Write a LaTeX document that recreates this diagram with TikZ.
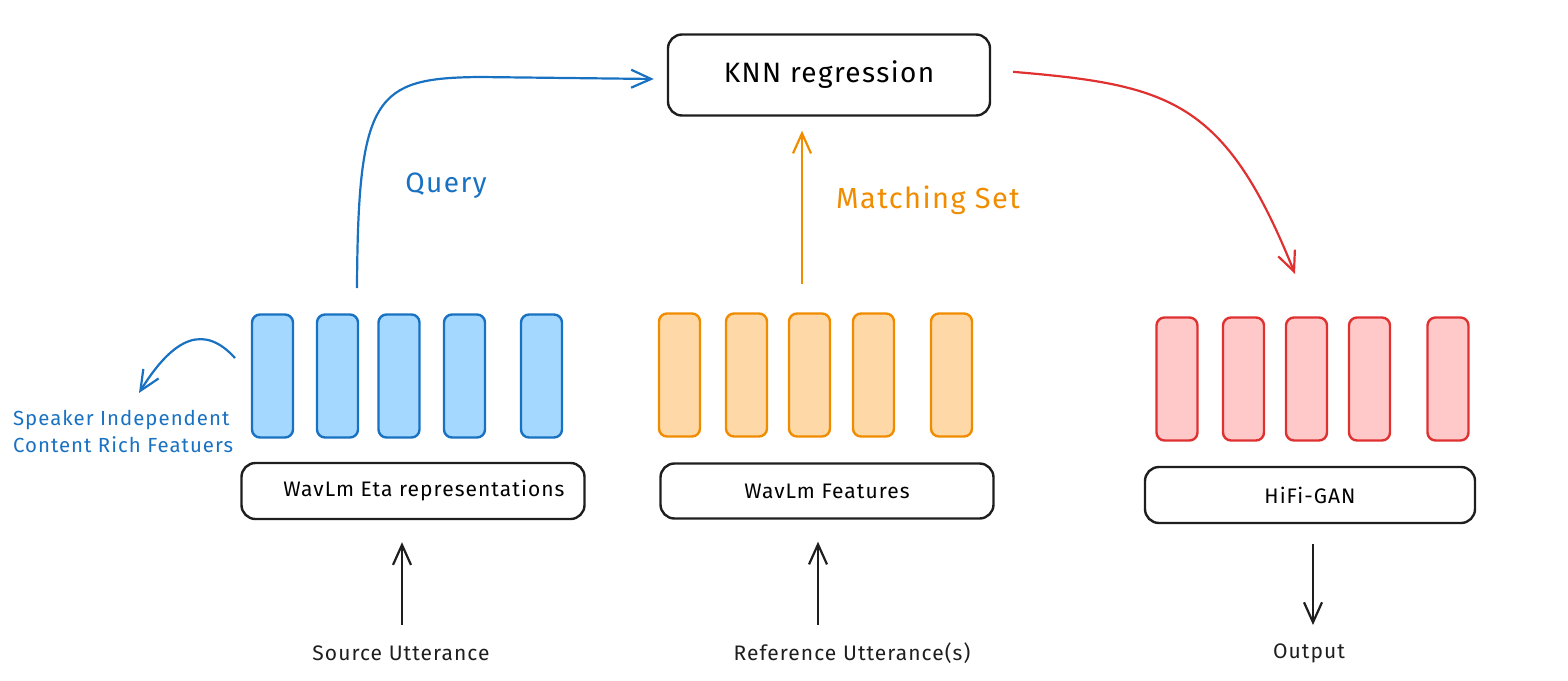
\documentclass[tikz,border=0pt]{standalone}
\usepackage{fontspec}
\setmainfont{Fira Sans}[LetterSpace=5]
\usetikzlibrary{arrows.meta}

\definecolor{inkblack}{HTML}{1E1E1E}
\definecolor{qblue}{HTML}{1971C2}
\definecolor{qbluefill}{HTML}{A5D8FF}
\definecolor{morange}{HTML}{F08C00}
\definecolor{morangefill}{HTML}{FFD8A8}
\definecolor{vred}{HTML}{E03131}
\definecolor{vredfill}{HTML}{FFC9C9}

\tikzset{
  stagebox/.style={draw=inkblack, line width=1.2pt, rounded corners=7pt, inner sep=0pt,
    minimum height=28pt, font=\fontsize{10.5}{12}\selectfont},
  featbar/.style={line width=1.2pt, rounded corners=4pt, inner sep=0pt,
    minimum width=20.5pt, minimum height=61.5pt},
  flow/.style={line width=1.1pt, -{Straight Barb[length=10pt, width=9pt]}},
  caption/.style={font=\fontsize{10.5}{12}\selectfont, text=inkblack}
}

\begin{document}
\begin{tikzpicture}[x=0.5pt, y=-0.5pt]
  \useasboundingbox (0,0) rectangle (1568,680);

  % top block
  \node[stagebox, minimum width=161pt, minimum height=40.5pt,
    font=\fontsize{14}{16}\selectfont] (knn) at (829,75) {KNN regression};

  % feature bars
  \foreach \x [count=\i] in {272.5,337.5,399,464.5,541.5}
    \node[featbar, draw=qblue, fill=qbluefill] (src\i) at (\x,376) {};
  \foreach \x [count=\i] in {679.5,746.5,809.5,873.5,951.5}
    \node[featbar, draw=morange, fill=morangefill] (ref\i) at (\x,375) {};
  \foreach \x [count=\i] in {1177,1243.5,1306.5,1369.5,1448}
    \node[featbar, draw=vred, fill=vredfill] (out\i) at (\x,379) {};

  % stage boxes
  \node[stagebox, minimum width=171.5pt] (wavblue) at (413,491) {\hspace{11pt}WavLm Eta representations};
  \node[stagebox, minimum width=166.5pt, minimum height=27.5pt] (wavorange) at (827,491) {WavLm Features};
  \node[stagebox, minimum width=165pt] (hifi) at (1310,495) {HiFi-GAN};

  % inputs and output
  \node[caption] (srclabel) at (401,653) {Source Utterance};
  \node[caption] (reflabel) at (852,653) {Reference Utterance(s)};
  \node[caption] (outlabel) at (1309,653) {Output};
  \coordinate (srcin) at (402,625);
  \coordinate (refin) at (818,625);
  \coordinate (outend) at (1313,625);
  \draw[flow, draw=inkblack, shorten >=11pt] (srcin) -- (srcin |- wavblue.south);
  \draw[flow, draw=inkblack, shorten >=11pt] (refin) -- (refin |- wavorange.south);
  \draw[flow, draw=inkblack, shorten <=10pt] (outend |- hifi.south) -- (outend);

  % query path
  \coordinate (qstart) at (357,288);
  \draw[flow, draw=qblue] (qstart) .. controls (358,95) and (375,78) .. (480,77)
    -- ([xshift=-6.5pt,yshift=-2pt]knn.west);
  \node[text=qblue, font=\fontsize{14}{16}\selectfont] (query) at (446,186) {Query};

  % matching set
  \coordinate (mstart) at (802,284);
  \draw[flow, draw=morange, shorten >=7pt] (mstart) -- (mstart |- knn.south);
  \node[text=morange, font=\fontsize{14.5}{16}\selectfont, anchor=west] (match) at (829,200) {Matching Set};

  % vocoder path
  \coordinate (vend) at (1295,274);
  \draw[flow, draw=vred, shorten <=11pt] ([yshift=2.5pt]knn.east) .. controls (1170,85) and (1225,100) .. (vend);

  % side note
  \coordinate (sstart) at (235,358);
  \coordinate (send) at (139,393);
  \draw[flow, draw=qblue] (sstart) .. controls (205,325) and (175,335) .. (send);
  \node[text=qblue, font=\fontsize{10.2}{13.5}\selectfont, align=left, anchor=west] (note) at (6,431)
    {Speaker Independent\\Content Rich Featuers};
\end{tikzpicture}
\end{document}
